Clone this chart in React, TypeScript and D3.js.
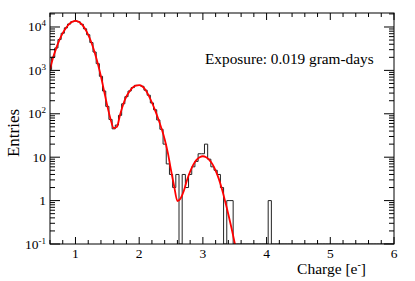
import React from "react";
import * as d3 from "d3";

// Fit curve samples (charge in e-, entries)
const curveX = [0.60,0.65,0.70,0.75,0.80,0.85,0.90,0.95,1.00,1.05,1.10,1.15,1.20,1.25,1.30,1.35,1.40,1.45,1.50,1.55,1.60,1.65,1.70,1.75,1.80,1.85,1.90,1.95,2.00,2.05,2.10,2.15,2.20,2.25,2.30,2.35,2.40,2.45,2.50,2.55,2.60,2.65,2.70,2.75,2.80,2.85,2.90,2.95,3.00,3.05,3.10,3.15,3.20,3.25,3.30,3.35,3.40,3.45,3.50,3.55];
const curveY = [1050,2000,3300,5100,7200,9500,11700,13200,13800,13200,11500,9120,6600,4400,2630,1445,724,331,151,76,47,50,95,166,251,331,407,447,457,427,355,263,182,120,76,46,26,12.6,5.0,2.1,0.98,1.12,1.66,2.95,4.68,6.76,8.71,10.0,10.5,10.0,8.71,6.92,4.90,3.16,1.82,0.95,0.48,0.23,0.105,0.045];

// Histogram: bin width 0.05, first bin centre 0.60
const histStart = 0.60;
const histWidth = 0.05;
const histCounts = [
  1040,2010,3290,5150,7180,9560,11690,13240,13770,13150,
  11520,9080,6640,4380,2650,1430,730,335,148,74,
  45,55,92,170,248,335,402,452,450,430,
  350,268,178,124,72,44,20,7,4,2,
  4,0,4,2,4,6,8,12,12,20,
  9,6,5,4,2,0,1,1,0,0,
  0,0,0,0,0,0,0,0,0,1,
  0,0,0,0,0,0,0,0,0,0,
  0,0,0,0,0,0,0,0,0,0,
  0,0,0,0,0,0,0,0,0,0,
  0,0,0,0,0,0,0,0,0
];

const xMajor = [1,2,3,4,5,6];
const yMajorExp = [-1,0,1,2,3,4];
const xDomain = [0.6, 6];
const yDomain = [0.1, 21000];

const FONT = "Liberation Serif, DejaVu Serif, serif";

export default function App() {
  const W = 415, H = 281;
  const L = 50, R = 394, T = 13, B = 244;
  const x = d3.scaleLinear().domain(xDomain).range([L, R]);
  const y = d3.scaleLog().domain(yDomain).range([B, T]);

  const xMinor = d3.range(0.6, 6.0001, 0.2).map(v => +v.toFixed(2)).filter(v => Math.abs(v - Math.round(v)) > 1e-6);
  const yMinor: number[] = [];
  yMajorExp.forEach(e => {
    for (let m = 2; m <= 9; m++) {
      const v = m * Math.pow(10, e);
      if (v <= yDomain[1]) yMinor.push(v);
    }
  });

  let hp = "";
  histCounts.forEach((c, i) => {
    const lo = histStart + (i - 0.5) * histWidth;
    const hi = lo + histWidth;
    const yy = c > 0 ? y(c) : B;
    if (i === 0) hp += `M${x(lo)},${yy}`;
    else hp += `V${yy}`;
    hp += `H${x(hi)}`;
  });

  const line = d3.line<number>()
    .x((_, i) => x(curveX[i]))
    .y(d => y(d))
    .curve(d3.curveMonotoneX);
  const cp = line(curveY) || "";

  const ts = { fontFamily: FONT };

  return (
    <svg width={W} height={H} style={{ position: "absolute", left: 0, top: 0, background: "#fff" }}>
      <defs>
        <clipPath id="plot"><rect x={L} y={T} width={R - L} height={B - T} /></clipPath>
      </defs>
      <rect x={0} y={0} width={W} height={H} fill="#fff" />
      <g clipPath="url(#plot)">
        <path d={hp} fill="none" stroke="#222" strokeWidth={1} />
        <path d={cp} fill="none" stroke="#ff0000" strokeWidth={1.8} />
      </g>
      <rect x={L} y={T} width={R - L} height={B - T} fill="none" stroke="#000" strokeWidth={1} />
      {xMajor.map(v => (
        <g key={"xm" + v}>
          <line x1={x(v)} x2={x(v)} y1={B} y2={B - 7} stroke="#000" />
          <line x1={x(v)} x2={x(v)} y1={T} y2={T + 7} stroke="#000" />
          <text style={ts} x={x(v)} y={258} fontSize={13.5} textAnchor="middle">{v}</text>
        </g>
      ))}
      {xMinor.map(v => (
        <g key={"xn" + v}>
          <line x1={x(v)} x2={x(v)} y1={B} y2={B - 4} stroke="#000" />
          <line x1={x(v)} x2={x(v)} y1={T} y2={T + 4} stroke="#000" />
        </g>
      ))}
      {yMajorExp.map(e => {
        const v = Math.pow(10, e);
        const yy = y(v);
        return (
          <g key={"ym" + e}>
            <line x1={L} x2={L + 10} y1={yy} y2={yy} stroke="#000" />
            <line x1={R} x2={R - 10} y1={yy} y2={yy} stroke="#000" />
            {e === 0 || e === 1 ? (
              <text style={ts} x={46} y={yy + 4.5} fontSize={13.5} textAnchor="end">{v}</text>
            ) : (
              <text style={ts} x={46} y={yy + 4.5} fontSize={13.5} textAnchor="end">
                10<tspan fontSize={9} dy={-5}>{e}</tspan>
              </text>
            )}
          </g>
        );
      })}
      {yMinor.map(v => (
        <g key={"yn" + v}>
          <line x1={L} x2={L + 5} y1={y(v)} y2={y(v)} stroke="#000" />
          <line x1={R} x2={R - 5} y1={y(v)} y2={y(v)} stroke="#000" />
        </g>
      ))}
      <text style={ts} x={366} y={274} fontSize={15.5} textAnchor="end">
        Charge [e<tspan fontSize={10} dy={-6}>-</tspan><tspan dy={6}>]</tspan>
      </text>
      <text style={ts} transform="translate(19,133) rotate(-90)" fontSize={17} textAnchor="middle">Entries</text>
      <text style={ts} x={205} y={64} fontSize={15.3}>Exposure: 0.019 gram-days</text>
    </svg>
  );
}
